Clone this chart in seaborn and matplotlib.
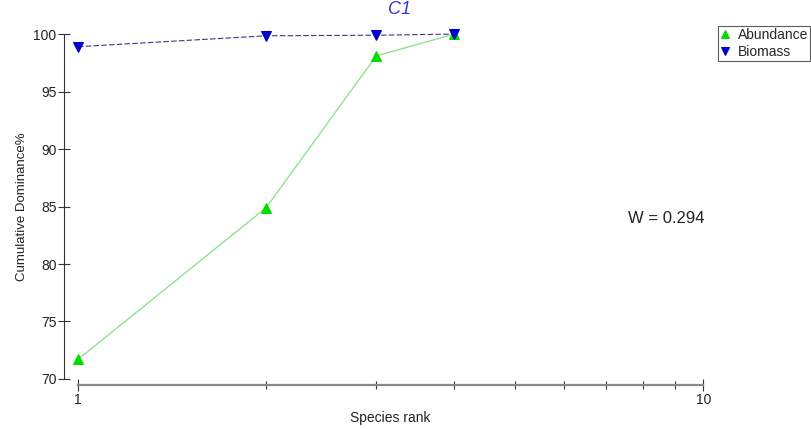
import matplotlib
matplotlib.use("Agg")
import matplotlib.pyplot as plt
import seaborn as sns
import pandas as pd
from matplotlib.ticker import FixedLocator, NullFormatter, FixedFormatter

sns.set_theme(style="white")
plt.rcParams["font.family"] = ["Liberation Sans", "DejaVu Sans"]

# Cumulative dominance by species rank
ranks = [1, 2, 3, 4]
abundance = [71.7, 84.9, 98.1, 100.0]
biomass = [98.9, 99.85, 99.9, 100.0]
w_stat = 0.294
title = "C1"

df = pd.DataFrame({"rank": ranks, "Abundance": abundance, "Biomass": biomass})

fig = plt.figure(figsize=(8.12, 4.29), dpi=100)
ax = fig.add_axes([0.096, 0.1166, 0.770, 0.804])

sns.lineplot(data=df, x="rank", y="Abundance", ax=ax, color="#8fe38f",
             linewidth=1.0, marker="^", markersize=7,
             markerfacecolor="#00dd00", markeredgecolor="#00dd00",
             label="Abundance", clip_on=False, legend=False)
sns.lineplot(data=df, x="rank", y="Biomass", ax=ax, color="#3a3a8a",
             linewidth=0.8, linestyle=(0, (5, 2)), marker="v", markersize=7,
             markerfacecolor="#0000cc", markeredgecolor="#0000cc",
             label="Biomass", clip_on=False, legend=False)

ax.set_xscale("log")
ax.set_xlim(1, 10)
ax.set_ylim(70, 100)

ax.xaxis.set_major_locator(FixedLocator([1, 10]))
ax.xaxis.set_major_formatter(FixedFormatter(["1", "10"]))
ax.xaxis.set_minor_locator(FixedLocator([2, 3, 4, 5, 6, 7, 8, 9]))
ax.xaxis.set_minor_formatter(NullFormatter())
ax.set_yticks([70, 75, 80, 85, 90, 95, 100])

for s in ["top", "right"]:
    ax.spines[s].set_visible(False)
ax.spines["left"].set_position(("outward", 10))
ax.spines["bottom"].set_position(("outward", 4))
ax.spines["left"].set_bounds(70, 100)
ax.spines["bottom"].set_bounds(1, 10)
ax.spines["left"].set_color("#333333")
ax.spines["left"].set_linewidth(0.8)
ax.spines["bottom"].set_color("#888888")
ax.spines["bottom"].set_linewidth(1.6)

ax.tick_params(axis="y", which="major", left=True, direction="inout", length=9,
               width=0.8, color="#333333", labelsize=10, labelcolor="#222222", pad=1)
ax.tick_params(axis="x", which="major", bottom=True, direction="inout", length=8,
               width=0.8, color="#333333", labelsize=10, labelcolor="#222222", pad=2)
ax.tick_params(axis="x", which="minor", bottom=True, direction="inout", length=6,
               width=0.8, color="#333333")

ax.set_xlabel("Species rank", fontsize=10, color="#222222", labelpad=3)
ax.set_ylabel("Cumulative Dominance%", fontsize=9.5, color="#222222", labelpad=4)

ax.text(0.515, 1.07, title, transform=ax.transAxes, ha="center", va="center",
        fontsize=13, style="italic", color="#3333cc")
fig.text(0.773, 0.48, f"W = {w_stat}", fontsize=12, color="#222222")

handles, labels = ax.get_legend_handles_labels()
fig.legend(handles, labels, loc="upper left", bbox_to_anchor=(0.884, 0.94),
           fontsize=10, frameon=True, fancybox=False, edgecolor="#333333",
           borderpad=0.15, handlelength=0.8, handletextpad=0.5,
           labelspacing=0.25, borderaxespad=0, markerscale=0.85)
leg = fig.legends[0]
for line in leg.get_lines():
    line.set_linestyle("none")
leg.get_frame().set_linewidth(0.8)

fig.savefig("out.png", dpi=100)
